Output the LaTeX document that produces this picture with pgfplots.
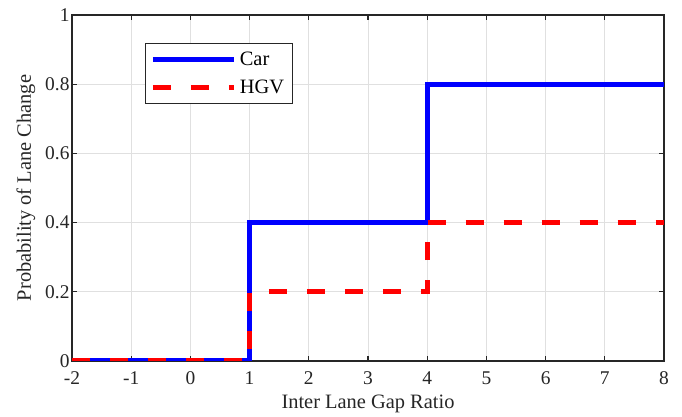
\documentclass[border=0pt]{standalone}
\usepackage{fontspec}
\setmainfont{Liberation Serif}
\usepackage{pgfplots}
\pgfplotsset{compat=1.18}

\definecolor{axiscol}{HTML}{262626}
\definecolor{gridcol}{HTML}{E0E0E0}

\begin{document}
\begin{tikzpicture}
\begin{axis}[
  scale only axis,
  width=592bp, height=346bp,
  xmin=-2, xmax=8, ymin=0, ymax=1,
  xtick={-2,-1,...,8},
  ytick={0,0.2,0.4,0.6,0.8,1},
  yticklabels={0,0.2,0.4,0.6,0.8,1},
  /pgf/number format/assume math mode=true,
  tick label style={font=\fontsize{19.5}{21}\selectfont, text=axiscol},
  xticklabel style={yshift=-7bp},
  yticklabel style={xshift=1bp},
  xlabel={Inter Lane Gap Ratio},
  ylabel={Probability of Lane Change},
  xlabel style={font=\fontsize{20.5}{22}\selectfont, text=axiscol,
    at={(axis description cs:0.5,-0.1243)}, anchor=center},
  ylabel style={font=\fontsize{20.5}{22}\selectfont, text=axiscol,
    at={(axis description cs:-0.0777,0.5)}, anchor=center, rotate=0},
  axis line style={axiscol, line width=1.3bp},
  tick style={axiscol, line width=1.1bp},
  major tick length=5bp,
  tick align=inside,
  grid=major,
  major grid style={gridcol, line width=0.8bp},
  legend style={
    at={(rel axis cs:0.123,0.919)}, anchor=north west,
    draw=axiscol, line width=1bp, fill=white,
    font=\fontsize{20.5}{22}\selectfont,
    inner xsep=5bp, inner ysep=5bp,
    row sep=6bp,
    nodes={inner sep=3.5bp},
  },
  legend cell align=left,
  legend image code/.code={
    \draw[#1] (0bp,0bp) -- (81bp,0bp);
  },
]
% Car: stepwise probability
\addplot[const plot, blue, line width=5bp] coordinates {
  (-2,0) (1,0.4) (4,0.8) (8,0.8)
};
\addlegendentry{Car}
% HGV: stepwise probability
\addplot[const plot, red, line width=5bp, dash pattern=on 18bp off 20bp] coordinates {
  (-2,0) (1,0.2) (4,0.4) (8,0.4)
};
\addlegendentry{HGV}
\end{axis}
\path[use as bounding box] ([shift={(-72bp,-56bp)}]current axis.south west) rectangle ([shift={(18bp,15bp)}]current axis.north east);
\end{tikzpicture}
\end{document}
